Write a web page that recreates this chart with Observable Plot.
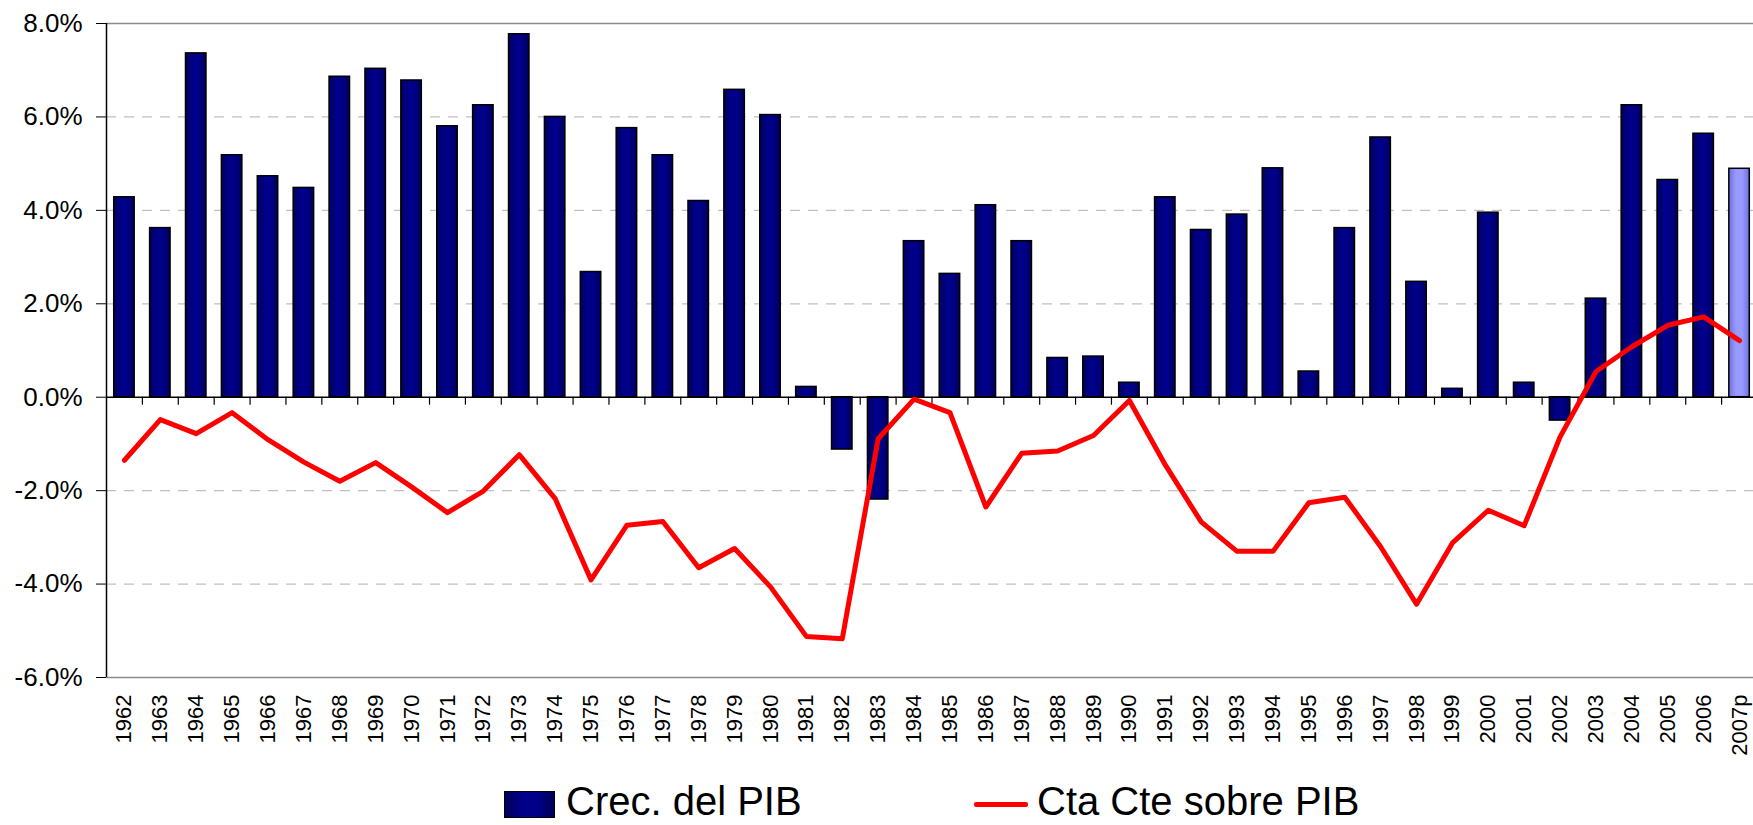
<!DOCTYPE html>
<html><head><meta charset="utf-8">
<script src="https://cdn.jsdelivr.net/npm/d3@7"></script>
<script src="https://cdn.jsdelivr.net/npm/@observablehq/plot@0.6"></script>
<style>
html,body{margin:0;padding:0;background:#fff;overflow:hidden;}
#wrap{position:relative;width:1753px;height:825px;font-family:"Liberation Sans",Arial,sans-serif;}
#chart{position:absolute;left:0;top:0;}
.leg{position:absolute;font-size:40px;line-height:30px;color:#000;white-space:nowrap;}
</style></head><body>
<div id="wrap">
<div id="chart"></div>
<div class="leg" style="left:504px;top:791px;width:49px;height:25px;border:1px solid #000;background:linear-gradient(to right,#00005a,#000088 35%,#000088 65%,#00005a);"></div>
<div class="leg" style="left:566px;top:786px;">Crec. del PIB</div>
<div class="leg" style="left:974px;top:802px;width:54px;height:5px;background:#ff0000;border-radius:2px;"></div>
<div class="leg" style="left:1037px;top:786px;">Cta Cte sobre PIB</div>
</div>
<script>
const years = ["1962","1963","1964","1965","1966","1967","1968","1969","1970","1971","1972","1973","1974","1975","1976","1977","1978","1979","1980","1981","1982","1983","1984","1985","1986","1987","1988","1989","1990","1991","1992","1993","1994","1995","1996","1997","1998","1999","2000","2001","2002","2003","2004","2005","2006","2007p"];
const gdpGrowth = [4.28,3.62,7.36,5.18,4.73,4.48,6.86,7.03,6.78,5.80,6.25,7.77,6.00,2.68,5.76,5.18,4.20,6.58,6.04,0.22,-1.12,-2.19,3.34,2.64,4.11,3.34,0.84,0.87,0.31,4.28,3.58,3.91,4.90,0.55,3.62,5.56,2.47,0.18,3.95,0.31,-0.50,2.11,6.25,4.65,5.64,4.89];
const currentAccount = [-1.35,-0.48,-0.78,-0.33,-0.91,-1.39,-1.80,-1.40,-1.92,-2.47,-2.01,-1.23,-2.17,-3.91,-2.74,-2.66,-3.65,-3.24,-4.06,-5.12,-5.17,-0.89,-0.04,-0.33,-2.35,-1.20,-1.15,-0.82,-0.07,-1.45,-2.67,-3.30,-3.30,-2.26,-2.14,-3.20,-4.43,-3.12,-2.42,-2.75,-0.85,0.55,1.08,1.54,1.72,1.21];
const yTicks = [-6,-4,-2,0,2,4,6,8];
const gridTicks = [-4,-2,2,4,6];
const frameTicks = [8,-6];
const projectedYear = "2007p";

const data = years.map((year, i) => ({year, gdp: gdpGrowth[i], ca: currentAccount[i]}));

const X0 = 106, X1 = 1757;
const step = (X1 - X0) / years.length;

const defsMark = () => {
  const ns = "http://www.w3.org/2000/svg";
  const defs = document.createElementNS(ns, "defs");
  defs.innerHTML =
    '<linearGradient id="gNavy" x1="0" x2="1" y1="0" y2="0">' +
    '<stop offset="0" stop-color="#00005a"/><stop offset="0.35" stop-color="#000088"/>' +
    '<stop offset="0.65" stop-color="#000088"/><stop offset="1" stop-color="#00005a"/></linearGradient>' +
    '<linearGradient id="gLight" x1="0" x2="1" y1="0" y2="0">' +
    '<stop offset="0" stop-color="#7070dd"/><stop offset="0.35" stop-color="#9999ff"/>' +
    '<stop offset="0.65" stop-color="#9999ff"/><stop offset="1" stop-color="#7070dd"/></linearGradient>';
  return defs;
};

const chart = Plot.plot({
  width: 1753,
  height: 775,
  marginLeft: X0,
  marginRight: 0,
  marginTop: 23,
  marginBottom: 98,
  style: {fontFamily: "'Liberation Sans', Arial, sans-serif", color: "#000", background: "#fff"},
  x: {domain: years, range: [X0, X1], paddingInner: 0.43, paddingOuter: 0.215, label: null},
  y: {domain: [-6, 8], label: null},
  marks: [
    defsMark,
    Plot.ruleY(gridTicks, {stroke: "#c0c0c0", strokeWidth: 1.2, strokeDasharray: "10,8"}),
    Plot.ruleY(frameTicks, {stroke: "#8c8c8c", strokeWidth: 1.5}),
    Plot.barY(data, {filter: d => d.year !== projectedYear, x: "year", y: "gdp", fill: "url(#gNavy)", stroke: "#000", strokeWidth: 1.5}),
    Plot.barY(data, {filter: d => d.year === projectedYear, x: "year", y: "gdp", fill: "url(#gLight)", stroke: "#000", strokeWidth: 1.5}),
    Plot.ruleY([0], {stroke: "#000", strokeWidth: 1.5}),
    Plot.ruleX(years.slice(1), {x: d => d, dx: -step / 2, y1: 0, y2: 0, insetBottom: -8, stroke: "#000", strokeWidth: 1.2}),
    Plot.ruleX([years[0]], {x: d => d, dx: -step / 2, y1: -6, y2: 8, stroke: "#000", strokeWidth: 1.5}),
    Plot.lineY(data, {x: "year", y: "ca", stroke: "#ff0000", strokeWidth: 5, strokeLinejoin: "round", strokeLinecap: "round"}),
    Plot.axisY({ticks: yTicks, tickSize: 10, tickPadding: 14, tickFormat: d => d.toFixed(1) + "%", fontSize: 26, label: null}),
    Plot.axisX({anchor: "bottom", tickSize: 0, tickPadding: 17, tickRotate: -90, fontSize: 22, label: null})
  ]
});
document.getElementById("chart").appendChild(chart);
</script>
</body></html>
